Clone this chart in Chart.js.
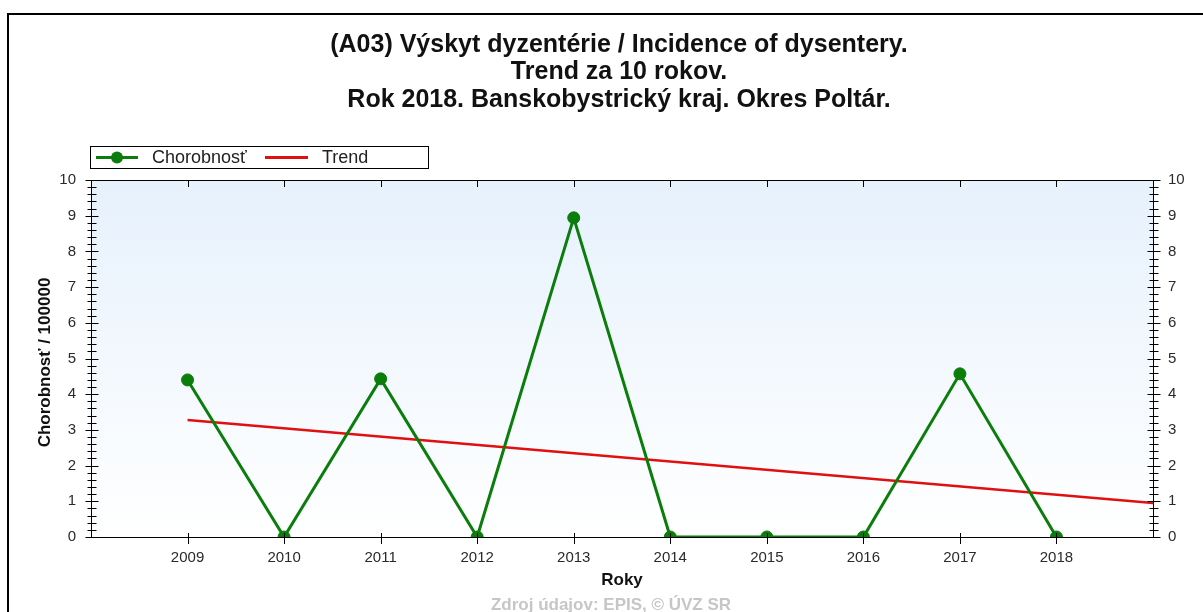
<!DOCTYPE html>
<html>
<head>
<meta charset="utf-8">
<script src="https://cdn.jsdelivr.net/npm/chart.js@4"></script>
<style>
  html, body { margin: 0; padding: 0; background: #fff; }
  #wrap { width: 1203px; height: 612px; position: relative; }
</style>
</head>
<body>
<div id="wrap"><canvas id="c" width="1203" height="612"></canvas></div>
<script>
// Yearly incidence per 100 000 inhabitants
const years = [2009, 2010, 2011, 2012, 2013, 2014, 2015, 2016, 2017, 2018];
const incidence = [4.40, 0, 4.43, 0, 8.94, 0, 0, 0, 4.57, 0];

// Linear trend line end points
const trendYears = [2009, 2019];
const trendValues = [3.28, 0.95];

const yTickValues = [0, 1, 2, 3, 4, 5, 6, 7, 8, 9, 10];

const titleLines = [
  '(A03) Výskyt dyzentérie / Incidence of dysentery.',
  'Trend za 10 rokov.',
  'Rok 2018. Banskobystrický kraj. Okres Poltár.'
];
const seriesName = 'Chorobnosť';
const trendName = 'Trend';
const yAxisTitle = 'Chorobnosť / 100000';
const xAxisTitle = 'Roky';
const sourceText = 'Zdroj údajov: EPIS, © ÚVZ SR';

const FONT = "'Liberation Sans', Arial, sans-serif";
const GREEN = '#0a7d0a';
const RED = '#e01010';
const TICK_COLOR = '#2a2a2a';

const decorations = {
  id: 'decorations',
  beforeDraw(chart) {
    const { ctx, chartArea: a } = chart;
    ctx.save();
    // plot background: pale blue fading to white
    const g = ctx.createLinearGradient(0, a.top, 0, a.bottom);
    g.addColorStop(0, '#e6f1fc');
    g.addColorStop(1, '#ffffff');
    ctx.fillStyle = g;
    ctx.fillRect(a.left, a.top, a.right - a.left, a.bottom - a.top);

    // outer frame
    ctx.strokeStyle = '#000';
    ctx.lineWidth = 2;
    ctx.strokeRect(8, 14, 1220, 620);

    // title
    ctx.fillStyle = '#111';
    ctx.font = 'bold 25px ' + FONT;
    ctx.textAlign = 'center';
    ctx.textBaseline = 'middle';
    const titleY = [45, 72, 100];
    titleLines.forEach((t, i) => ctx.fillText(t, 619, titleY[i]));

    // legend
    ctx.lineWidth = 1;
    ctx.strokeStyle = '#000';
    ctx.strokeRect(90.5, 146.5, 338, 22);
    ctx.lineWidth = 3;
    ctx.strokeStyle = GREEN;
    ctx.beginPath(); ctx.moveTo(96, 157.5); ctx.lineTo(138, 157.5); ctx.stroke();
    ctx.fillStyle = GREEN;
    ctx.beginPath(); ctx.arc(117, 157.5, 6, 0, Math.PI * 2); ctx.fill();
    ctx.strokeStyle = RED;
    ctx.beginPath(); ctx.moveTo(265, 157.5); ctx.lineTo(308, 157.5); ctx.stroke();
    ctx.fillStyle = '#222';
    ctx.font = '18px ' + FONT;
    ctx.textAlign = 'left';
    ctx.fillText(seriesName, 152, 158);
    ctx.fillText(trendName, 322, 158);

    // axis titles
    ctx.fillStyle = '#111';
    ctx.font = 'bold 17px ' + FONT;
    ctx.textAlign = 'center';
    ctx.fillText(xAxisTitle, (a.left + a.right) / 2, 580);
    ctx.save();
    ctx.translate(45, (a.top + a.bottom) / 2 + 4);
    ctx.rotate(-Math.PI / 2);
    ctx.font = 'bold 17px ' + FONT;
    ctx.fillText(yAxisTitle, 0, 0);
    ctx.restore();

    // data source note
    ctx.fillStyle = '#c6c6c6';
    ctx.font = 'bold 17px ' + FONT;
    ctx.fillText(sourceText, 611, 605);
    ctx.restore();
  },
  afterDatasetsDraw(chart) {
    const { ctx, chartArea: a, scales } = chart;
    const y = scales.y, x = scales.x;
    ctx.save();
    ctx.strokeStyle = '#000';
    ctx.lineWidth = 1;
    ctx.strokeRect(Math.round(a.left) + 0.5, Math.round(a.top) + 0.5,
      Math.round(a.right - a.left), Math.round(a.bottom - a.top));
    ctx.beginPath();
    // major and minor ticks on both value axes
    for (let i = 0; i <= 50; i++) {
      const v = i / 5;
      const py = Math.round(y.getPixelForValue(v)) + 0.5;
      const len = i % 5 === 0 ? 6 : 4;
      [a.left, a.right].forEach(ax => {
        const px = Math.round(ax) + 0.5;
        ctx.moveTo(px - len, py); ctx.lineTo(px + len + 1, py);
      });
    }
    // year ticks on bottom and top
    years.forEach(yr => {
      const px = Math.round(x.getPixelForValue(yr)) + 0.5;
      ctx.moveTo(px, a.bottom - 4); ctx.lineTo(px, a.bottom + 7);
      ctx.moveTo(px, a.top); ctx.lineTo(px, a.top + 7);
    });
    ctx.stroke();
    ctx.restore();
  }
};

const valueAxis = (position, width) => ({
  type: 'linear',
  position,
  min: 0,
  max: 10,
  grid: { display: false, drawTicks: false },
  border: { display: true, color: '#000', width: 1 },
  ticks: {
    stepSize: 1,
    padding: 15,
    color: TICK_COLOR,
    font: { family: FONT, size: 15 }
  },
  afterBuildTicks(scale) { scale.ticks = yTickValues.map(v => ({ value: v })); },
  afterFit(scale) { scale.width = width; }
});

new Chart(document.getElementById('c'), {
  type: 'line',
  data: {
    datasets: [
      {
        label: seriesName,
        data: years.map((yr, i) => ({ x: yr, y: incidence[i] })),
        borderColor: GREEN,
        backgroundColor: GREEN,
        borderWidth: 3,
        pointRadius: 6,
        pointBorderWidth: 1,
        pointHoverRadius: 6,
        tension: 0
      },
      {
        label: trendName,
        data: trendYears.map((yr, i) => ({ x: yr, y: trendValues[i] })),
        borderColor: RED,
        backgroundColor: RED,
        borderWidth: 2.5,
        pointRadius: 0,
        tension: 0
      }
    ]
  },
  options: {
    responsive: false,
    animation: false,
    devicePixelRatio: 1,
    layout: { padding: { top: 180, left: 0, right: 0, bottom: 0 } },
    plugins: {
      legend: { display: false },
      title: { display: false },
      tooltip: { enabled: false }
    },
    scales: {
      x: {
        type: 'linear',
        position: 'bottom',
        min: 2008,
        max: 2019,
        grid: { display: false, drawTicks: false },
        border: { display: true, color: '#000', width: 1 },
        ticks: {
          padding: 12,
          color: TICK_COLOR,
          font: { family: FONT, size: 15 },
          maxRotation: 0,
          callback: v => String(v)
        },
        afterBuildTicks(scale) { scale.ticks = years.map(v => ({ value: v })); },
        afterFit(scale) { scale.height = 75; }
      },
      y: valueAxis('left', 91),
      y2: valueAxis('right', 50)
    }
  },
  plugins: [decorations]
});
</script>
</body>
</html>
